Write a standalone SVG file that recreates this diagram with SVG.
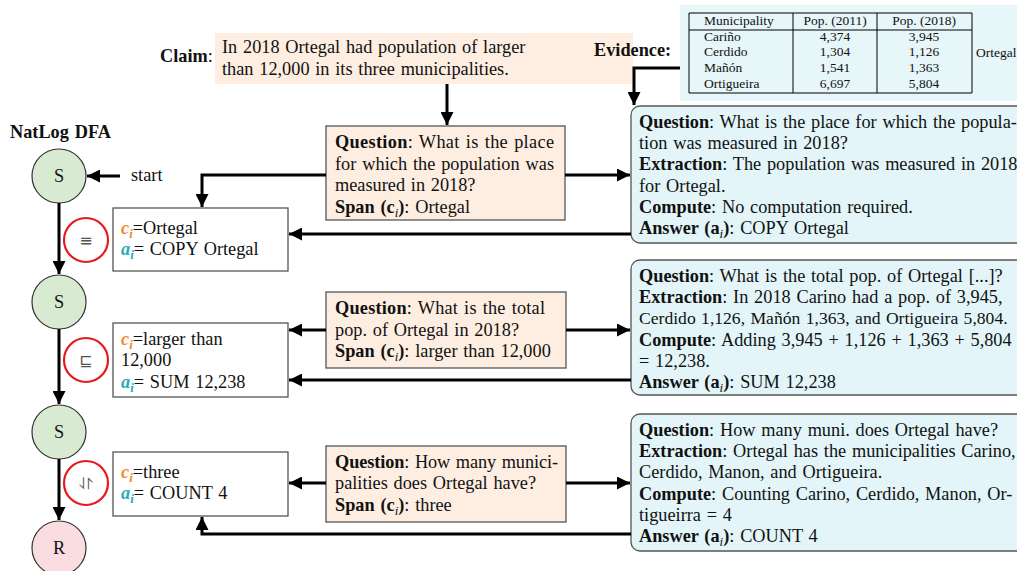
<svg xmlns="http://www.w3.org/2000/svg" width="1017" height="571" viewBox="0 0 1017 571">
<defs>
<marker id="ah" viewBox="0 0 10 10" refX="10" refY="5" markerWidth="13" markerHeight="13" markerUnits="userSpaceOnUse" orient="auto"><path d="M0,0 L10,5 L0,10 z" fill="#000"/></marker>
<style>
text{font-family:"Liberation Serif","Times New Roman",serif;font-size:18.3px;word-spacing:1.2px;fill:#111}
.b{font-weight:bold}
.tb{font-size:13.5px;word-spacing:0}
.peach{fill:#fdeee1;stroke:#555;stroke-width:1.3}
.cyan{fill:#e3f5f8;stroke:#555;stroke-width:1.3}
.ans{fill:#fff;stroke:#555;stroke-width:1.3}
.st{fill:#d9ead3;stroke:#333;stroke-width:1.2}
.rj{fill:#f9dde0;stroke:#333;stroke-width:1.2}
.red{fill:none;stroke:#e8191e;stroke-width:2.2}
.ci{fill:#f28c28;font-weight:bold;font-style:italic}
.ai{fill:#27abc0;font-weight:bold;font-style:italic}
.conn path{fill:none;stroke:#000;stroke-width:3;marker-end:url(#ah)}
.sym{font-family:"DejaVu Sans",sans-serif;font-size:16px;fill:#555}
</style>
</defs>

<g id="claim">
<text x="160" y="62" font-size="17"><tspan class="b">Claim</tspan>:</text>
<rect x="215" y="33" width="418" height="51" fill="#fdeee1"/>
<text x="222" y="53">In 2018 Ortegal had population of larger</text>
<text x="222" y="75">than 12,000 in its three municipalities.</text>
</g>

<g id="evidence">
<text x="594" y="56" class="b">Evidence:</text>
<rect x="680" y="5" width="337" height="96" fill="#e6f6f9"/>
<line x1="689" y1="13" x2="972" y2="13" stroke="#000" stroke-width="1"/>
<line x1="689" y1="30" x2="972" y2="30" stroke="#000" stroke-width="1"/>
<line x1="689" y1="93" x2="972" y2="93" stroke="#000" stroke-width="1"/>
<line x1="689" y1="13" x2="689" y2="93" stroke="#000" stroke-width="1"/>
<line x1="793" y1="13" x2="793" y2="93" stroke="#000" stroke-width="1"/>
<line x1="877" y1="13" x2="877" y2="93" stroke="#000" stroke-width="1"/>
<line x1="972" y1="13" x2="972" y2="93" stroke="#000" stroke-width="1"/>
<text class="tb" x="704" y="25">Municipality</text>
<text class="tb" x="835" y="25" text-anchor="middle">Pop. (2011)</text>
<text class="tb" x="924" y="25" text-anchor="middle">Pop. (2018)</text>
<text class="tb" x="704" y="41">Cariño</text>
<text class="tb" x="835" y="41" text-anchor="middle">4,374</text>
<text class="tb" x="924" y="41" text-anchor="middle">3,945</text>
<text class="tb" x="704" y="56">Cerdido</text>
<text class="tb" x="835" y="56" text-anchor="middle">1,304</text>
<text class="tb" x="924" y="56" text-anchor="middle">1,126</text>
<text class="tb" x="704" y="72">Mañón</text>
<text class="tb" x="835" y="72" text-anchor="middle">1,541</text>
<text class="tb" x="924" y="72" text-anchor="middle">1,363</text>
<text class="tb" x="704" y="88">Ortigueira</text>
<text class="tb" x="835" y="88" text-anchor="middle">6,697</text>
<text class="tb" x="924" y="88" text-anchor="middle">5,804</text>
<text class="tb" x="976" y="57">Ortegal</text>
</g>

<g id="dfa-title"><text x="10" y="138" class="b">NatLog DFA</text></g>

<g id="state-s1"><circle cx="59" cy="176" r="27" class="st"/><text x="59" y="182" text-anchor="middle">S</text></g>
<g id="start-label"><text x="131" y="181">start</text></g>
<g id="state-s2"><circle cx="59" cy="302" r="27" class="st"/><text x="59" y="308" text-anchor="middle">S</text></g>
<g id="state-s3"><circle cx="59" cy="432" r="27" class="st"/><text x="59" y="438" text-anchor="middle">S</text></g>
<g id="state-r"><circle cx="59" cy="548" r="27" class="rj"/><text x="59" y="554" text-anchor="middle">R</text></g>

<g id="op1"><circle cx="86" cy="240" r="22" class="red"/><text x="86" y="246" text-anchor="middle" class="sym">≡</text></g>
<g id="op2"><circle cx="86" cy="360" r="22" class="red"/><text x="86" y="366" text-anchor="middle" class="sym">⊑</text></g>
<g id="op3"><circle cx="86" cy="483" r="22" class="red"/><text x="86" y="489" text-anchor="middle" class="sym">⥯</text></g>

<g id="answer1">
<rect x="113" y="208" width="175" height="63" class="ans"/>
<text x="121" y="234"><tspan class="ci">c</tspan><tspan class="ci" font-size="13" dy="4">i</tspan><tspan dy="-4">=Ortegal</tspan></text>
<text x="121" y="255"><tspan class="ai">a</tspan><tspan class="ai" font-size="13" dy="4">i</tspan><tspan dy="-4">= COPY Ortegal</tspan></text>
</g>
<g id="answer2">
<rect x="113" y="323" width="175" height="74" class="ans"/>
<text x="121" y="345"><tspan class="ci">c</tspan><tspan class="ci" font-size="13" dy="4">i</tspan><tspan dy="-4">=larger than</tspan></text>
<text x="121" y="366">12,000</text>
<text x="121" y="388"><tspan class="ai">a</tspan><tspan class="ai" font-size="13" dy="4">i</tspan><tspan dy="-4">= SUM 12,238</tspan></text>
</g>
<g id="answer3">
<rect x="113" y="452" width="175" height="64" class="ans"/>
<text x="121" y="478"><tspan class="ci">c</tspan><tspan class="ci" font-size="13" dy="4">i</tspan><tspan dy="-4">=three</tspan></text>
<text x="121" y="499"><tspan class="ai">a</tspan><tspan class="ai" font-size="13" dy="4">i</tspan><tspan dy="-4">= COUNT 4</tspan></text>
</g>

<g id="question1">
<rect x="326" y="126" width="239" height="94" class="peach"/>
<text x="335" y="148" textLength="219" lengthAdjust="spacing"><tspan class="b">Question</tspan>: What is the place</text>
<text x="335" y="170" textLength="219" lengthAdjust="spacing">for which the population was</text>
<text x="335" y="191">measured in 2018?</text>
<text x="335" y="213"><tspan class="b">Span (c</tspan><tspan font-style="italic" font-size="13" dy="4">i</tspan><tspan class="b" dy="-4">)</tspan>:  Ortegal</text>
</g>
<g id="question2">
<rect x="326" y="292" width="240" height="76" class="peach"/>
<text x="335" y="314" textLength="210" lengthAdjust="spacing"><tspan class="b">Question</tspan>: What is the total</text>
<text x="335" y="336">pop. of Ortegal in 2018?</text>
<text x="335" y="357"><tspan class="b">Span (c</tspan><tspan font-style="italic" font-size="13" dy="4">i</tspan><tspan class="b" dy="-4">)</tspan>:  larger than 12,000</text>
</g>
<g id="question3">
<rect x="326" y="446" width="240" height="76" class="peach"/>
<text x="335" y="468" textLength="223" lengthAdjust="spacing"><tspan class="b">Question</tspan>: How many munici-</text>
<text x="335" y="489">palities does Ortegal have?</text>
<text x="335" y="511"><tspan class="b">Span (c</tspan><tspan font-style="italic" font-size="13" dy="4">i</tspan><tspan class="b" dy="-4">)</tspan>:  three</text>
</g>

<g id="reasoning1">
<rect x="631" y="106" width="400" height="137" rx="9" class="cyan"/>
<text x="639" y="128"><tspan class="b">Question</tspan>:  What is the place for which the popula-</text>
<text x="639" y="149">tion was measured in 2018?</text>
<text x="639" y="170"><tspan class="b">Extraction</tspan>:  The population was measured in 2018</text>
<text x="639" y="192">for Ortegal.</text>
<text x="639" y="213"><tspan class="b">Compute</tspan>:  No computation required.</text>
<text x="639" y="234"><tspan class="b">Answer (a</tspan><tspan font-style="italic" font-size="13" dy="4">i</tspan><tspan class="b" dy="-4">)</tspan>:  COPY Ortegal</text>
</g>
<g id="reasoning2">
<rect x="631" y="260" width="400" height="135" rx="9" class="cyan"/>
<text x="639" y="282"><tspan class="b">Question</tspan>:  What is the total pop.  of Ortegal [...]?</text>
<text x="639" y="303"><tspan class="b">Extraction</tspan>:  In 2018 Carino had a pop.  of 3,945,</text>
<text x="639" y="324" style="font-size:17.6px;word-spacing:1px">Cerdido 1,126, Mañón 1,363, and Ortigueira 5,804.</text>
<text x="639" y="346"><tspan class="b">Compute</tspan>:  Adding 3,945 + 1,126 + 1,363 + 5,804</text>
<text x="639" y="367">= 12,238.</text>
<text x="639" y="388"><tspan class="b">Answer (a</tspan><tspan font-style="italic" font-size="13" dy="4">i</tspan><tspan class="b" dy="-4">)</tspan>:  SUM 12,238</text>
</g>
<g id="reasoning3">
<rect x="631" y="414" width="400" height="137" rx="9" class="cyan"/>
<text x="639" y="436"><tspan class="b">Question</tspan>:  How many muni.  does Ortegal have?</text>
<text x="639" y="457"><tspan class="b">Extraction</tspan>:  Ortegal has the municipalities Carino,</text>
<text x="639" y="478">Cerdido, Manon, and Ortigueira.</text>
<text x="639" y="500"><tspan class="b">Compute</tspan>:  Counting Carino, Cerdido, Manon, Or-</text>
<text x="639" y="521">tigueirra = 4</text>
<text x="639" y="542"><tspan class="b">Answer (a</tspan><tspan font-style="italic" font-size="13" dy="4">i</tspan><tspan class="b" dy="-4">)</tspan>:  COUNT 4</text>
</g>

<g id="connectors" class="conn">
<path d="M447,84 V125"/>
<path d="M680,68 H634 V105"/>
<path d="M326,175 H202 V207"/>
<path d="M565,175 H630"/>
<path d="M631,234 H289"/>
<path d="M326,330 H289"/>
<path d="M566,330 H630"/>
<path d="M631,380 H289"/>
<path d="M326,483 H289"/>
<path d="M566,483 H630"/>
<path d="M631,534 H202 V517"/>
<path d="M120,176 H87"/>
<path d="M59,203 V274"/>
<path d="M59,329 V404"/>
<path d="M59,459 V520"/>
</g>
</svg>
